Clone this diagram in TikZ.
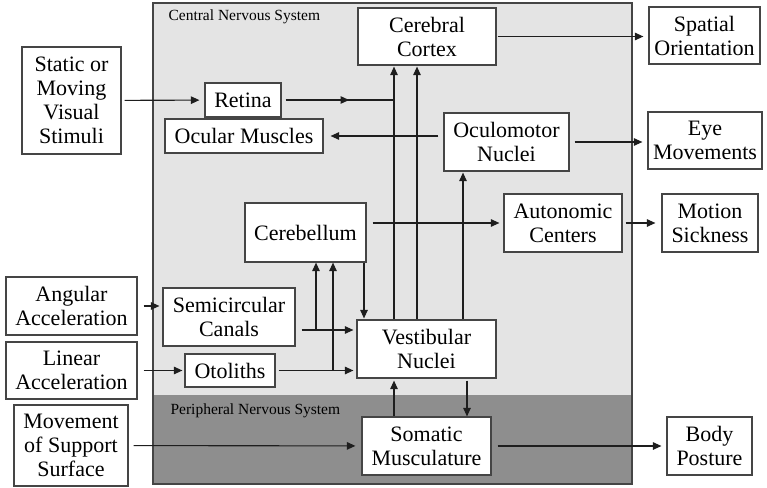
\documentclass[tikz,border=0pt]{standalone}
\usepackage{fontspec}
\setmainfont{Liberation Serif}
\usetikzlibrary{arrows.meta, decorations.markings}

\definecolor{cnsgray}{HTML}{E4E4E4}
\definecolor{pnsgray}{HTML}{8E8E8E}
\definecolor{edgegray}{HTML}{454545}
\definecolor{linegray}{HTML}{1E1E1E}

\tikzset{
  box/.style={draw=edgegray, fill=white, line width=1.2pt, align=center,
    inner sep=0pt, font=\fontsize{22}{24}\selectfont},
  size/.style 2 args={minimum width=#1pt, minimum height=#2pt},
  arr/.style={draw=linegray, line width=1.1pt, -{Triangle[length=8.5pt,width=7.5pt]}},
  link/.style={draw=linegray, line width=1.1pt},
  midarr/.style={postaction={decorate}, decoration={markings,
    mark=at position #1 with {\arrow{Triangle[length=8.5pt,width=7.5pt]}}}},
  region/.style={font=\fontsize{15.5}{17}\selectfont, anchor=west},
}

\begin{document}
\begin{tikzpicture}[x=1pt, y=-1pt]
        \useasboundingbox (0,0) rectangle (767,487);

        \fill[cnsgray] (153,3) rectangle (632,395);
        \fill[pnsgray] (153,395) rectangle (632,484);
        \draw[edgegray, line width=1.5pt] (153,3) rectangle (632,484);
        \node[region] (cnslabel) at (165,17) {Central Nervous System};
        \node[region] (pnslabel) at (167,411) {Peripheral Nervous System};

        \coordinate (xcb) at (364,0);
        \coordinate (xsc) at (316,0);
        \coordinate (xot) at (333,0);
        \coordinate (xup) at (394,0);
        \coordinate (xcx) at (417,0);
        \coordinate (xom) at (463,0);
        \coordinate (xdn) at (467,0);
        \coordinate (ysc) at (0,330);
        \coordinate (yau) at (0,223);
        \coordinate (yom) at (0,136);

        \node[box, size={99}{107}] (stim) at (71.5,100.5) {Static or\\Moving\\Visual\\Stimuli};
        \node[box, size={76}{34}] (retina) at (243,100) {Retina};
        \node[box, size={158}{34}] (ocmus) at (244,136) {Ocular Muscles};
        \node[box, size={138}{57}] (cortex) at (427,36.5) {Cerebral\\Cortex};
        \node[box, size={111}{57}] (spatial) at (704.5,35.5) {Spatial\\Orientation};
        \node[box, size={125}{58}] (oculo) at (506.5,142) {Oculomotor\\Nuclei};
        \node[box, size={114}{57}] (eyemov) at (705,140.5) {Eye\\Movements};
        \node[box, size={121}{59}] (cereb) at (305.5,232.5) {Cerebellum};
        \node[box, size={118}{58}] (auton) at (563,223) {Autonomic\\Centers};
        \node[box, size={96}{58}] (sick) at (710,223) {Motion\\Sickness};
        \node[box, size={131}{58}] (angular) at (71.5,306) {Angular\\Acceleration};
        \node[box, size={131}{57}] (linear) at (71.5,370.5) {Linear\\Acceleration};
        \node[box, size={114}{81}] (support) at (71,445.5) {Movement\\of Support\\Surface};
        \node[box, size={132}{58}] (semi) at (229,317) {Semicircular\\Canals};
        \node[box, size={90}{33}] (otol) at (230,370.5) {Otoliths};
        \node[box, size={139}{58}] (vest) at (426.5,349) {Vestibular\\Nuclei};
        \node[box, size={129}{58}] (somatic) at (426.5,446) {Somatic\\Musculature};
        \node[box, size={85}{58}] (posture) at (709.5,446) {Body\\Posture};

        \draw[arr, shorten <=3pt, shorten >=5pt] (stim) -- (retina);
        \draw[link, midarr=0.6, shorten <=4pt] (retina.east) -- (retina.east -| xup);
        \draw[arr, shorten >=1pt] (vest.north -| xup) -- (cortex.south -| xup);
        \draw[arr, shorten >=1pt] (vest.north -| xcx) -- (cortex.south -| xcx);
        \draw[arr, shorten >=1pt] (vest.north -| xom) -- (oculo.south -| xom);
        \draw[arr, shorten <=5pt, shorten >=7pt] (oculo.west |- yom) -- (ocmus.east |- yom);
        \draw[arr, shorten <=1pt, shorten >=5pt] (cortex.east) -- (cortex.east -| spatial.west);
        \draw[arr, shorten <=5pt, shorten >=5pt] (oculo.east) -- (oculo.east -| eyemov.west);
        \draw[arr, shorten <=6pt, shorten >=4pt] (cereb.east |- yau) -- (auton.west |- yau);
        \draw[arr, shorten <=3pt, shorten >=6pt] (auton) -- (sick);
        \draw[arr, shorten >=1pt] (cereb.south -| xcb) -- (vest.north -| xcb);
        \draw[arr, shorten <=6pt, shorten >=3pt] (semi.east |- ysc) -- (vest.west |- ysc);
        \draw[arr] (xsc |- ysc) -- (cereb.south -| xsc);
        \draw[arr, shorten <=3pt, shorten >=3pt] (otol) -- (otol -| vest.west);
        \draw[arr] (xot |- otol) -- (cereb.south -| xot);
        \draw[arr, shorten <=6pt, shorten >=3pt] (angular.east) -- (angular.east -| semi.west);
        \draw[arr, shorten <=6pt, shorten >=2pt] (linear) -- (otol);
        \draw[arr, shorten <=5pt, shorten >=6pt] (support) -- (somatic);
        \draw[arr, shorten <=6pt, shorten >=5pt] (somatic) -- (posture);
        \draw[arr, shorten >=2pt] (somatic.north -| xup) -- (vest.south -| xup);
        \draw[arr, shorten <=2pt] (vest.south -| xdn) -- (somatic.north -| xdn);
    \end{tikzpicture}
\end{document}
